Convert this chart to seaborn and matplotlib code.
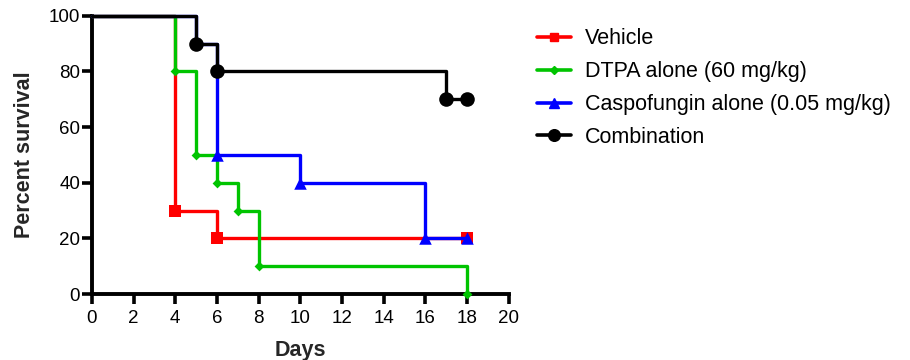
import matplotlib
matplotlib.use("Agg")
import matplotlib.pyplot as plt
import seaborn as sns
import pandas as pd
from matplotlib.lines import Line2D

sns.set_theme(style="ticks")
plt.rcParams['font.family'] = ['Liberation Sans', 'DejaVu Sans']

# Step curve data (day, percent survival)
vehicle_days = [0, 4, 6, 18]
vehicle_surv = [100, 30, 20, 20]
dtpa_days = [0, 4, 5, 6, 7, 8, 18]
dtpa_surv = [100, 80, 50, 40, 30, 10, 0]
caspo_days = [0, 5, 6, 10, 16, 18]
caspo_surv = [100, 90, 50, 40, 20, 20]
combo_days = [0, 5, 6, 17, 18]
combo_surv = [100, 90, 80, 70, 70]
# index of first point that carries a visible marker in each series
marker_from = [1, 1, 2, 1]

labels = ["Vehicle", "DTPA alone (60 mg/kg)", "Caspofungin alone (0.05 mg/kg)", "Combination"]
colors = ["#ff0000", "#00c400", "#0000ff", "#000000"]
markers = ["s", "D", "^", "o"]
msizes = [8, 5, 9, 10.5]
x_ticks = list(range(0, 21, 2))
y_ticks = [0, 20, 40, 60, 80, 100]

series = [(vehicle_days, vehicle_surv), (dtpa_days, dtpa_surv),
          (caspo_days, caspo_surv), (combo_days, combo_surv)]

fig = plt.figure(figsize=(9.1, 3.6), dpi=100)
ax = fig.add_axes([0.101, 0.183, 0.458, 0.773])

for z, i in enumerate([0, 1, 2, 3]):  # red, green, blue, black on top
    d, s = series[i]
    df = pd.DataFrame({"day": d, "surv": s})
    sns.lineplot(data=df, x="day", y="surv", ax=ax, color=colors[i], lw=2.4,
                 drawstyle="steps-post", zorder=3 + 2 * z, clip_on=False)
    sns.scatterplot(data=df.iloc[marker_from[i]:], x="day", y="surv", ax=ax,
                    color=colors[i], marker=markers[i], s=msizes[i] ** 2,
                    edgecolor=colors[i], linewidth=0, zorder=4 + 2 * z,
                    clip_on=False)

ax.set_xlim(0, 20)
ax.set_ylim(0, 100)
ax.set_xticks(x_ticks)
ax.set_yticks(y_ticks)
ax.tick_params(axis="both", labelsize=13.5, width=2.6, length=7.5, color="black",
               labelcolor="black")
ax.tick_params(axis="x", pad=4)
ax.tick_params(axis="y", pad=1)
for sp in ["left", "bottom"]:
    ax.spines[sp].set_linewidth(2.8)
    ax.spines[sp].set_color("black")
sns.despine(ax=ax)
ax.set_xlabel("Days", fontsize=15.5, fontweight="bold", labelpad=9)
ax.set_ylabel("Percent survival", fontsize=15.5, fontweight="bold", labelpad=10)

handles = [Line2D([0], [0], color=c, lw=2.6, marker=m, markersize=ms * 0.8)
           for c, m, ms in zip(colors, markers, msizes)]
fig.legend(handles, labels, loc="upper left", bbox_to_anchor=(0.569, 0.975),
           frameon=False, fontsize=15.5, handlelength=1.55, labelspacing=0.55,
           handletextpad=0.65, labelcolor="black")

fig.savefig("out.png", dpi=100)
